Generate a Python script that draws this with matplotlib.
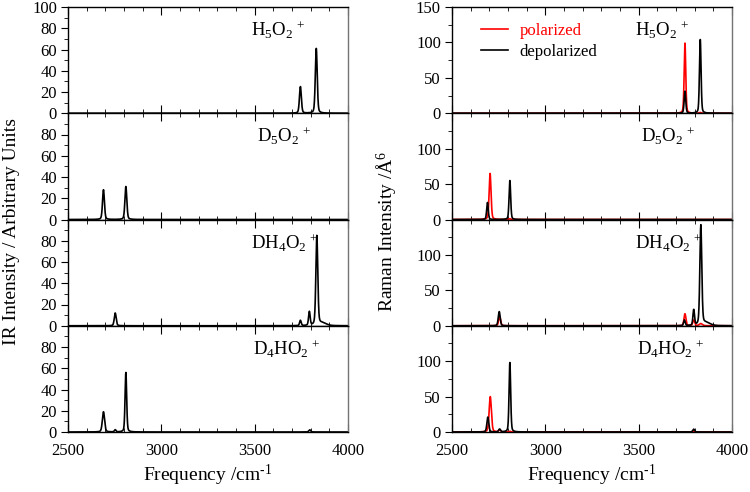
import numpy as np
import matplotlib
matplotlib.use("Agg")
import matplotlib.pyplot as plt

plt.rcParams['font.family'] = ['Liberation Serif', 'DejaVu Serif']
plt.rcParams['mathtext.fontset'] = 'custom'
plt.rcParams['mathtext.rm'] = 'Liberation Serif'
plt.rcParams['mathtext.it'] = 'Liberation Serif:italic'

# species labels (top to bottom)
species = [r'H$_5$O$_2$$^{\,+}$', r'D$_5$O$_2$$^{\,+}$', r'DH$_4$O$_2$$^{\,+}$', r'D$_4$HO$_2$$^{\,+}$']

# IR peak lists: centre (cm-1), height, half width
ir_centers = [[3745, 3830],
              [2690, 2810],
              [2753, 3745, 3793, 3833, 3862],
              [2690, 2753, 2810, 3795]]
ir_heights = [[25, 61],
              [28, 31],
              [12, 5, 13, 84, 2.5],
              [19, 2, 56, 2]]
ir_widths = [[6, 6],
             [6, 6],
             [6, 5, 5, 6, 25],
             [7, 5, 5, 6]]

# Raman polarized (red)
pol_centers = [[3748, 3830],
               [2704, 2810],
               [2755, 3748, 3795, 3833],
               [2705, 2755, 2810, 3795]]
pol_heights = [[99, 1],
               [65, 1],
               [13, 17, 8, 3],
               [50, 3, 1, 1]]
pol_widths = [[5, 5],
              [6, 5],
              [6, 6, 6, 10],
              [7, 6, 5, 6]]

# Raman depolarized (black)
dep_centers = [[3748, 3830],
               [2690, 2810],
               [2753, 3745, 3795, 3833, 3862],
               [2692, 2755, 2810, 3795]]
dep_heights = [[31, 104],
               [24, 55],
               [20, 8, 22, 141, 4],
               [21, 4, 98, 4]]
dep_widths = [[5, 5],
              [5, 5],
              [6, 5, 5, 6, 25],
              [6, 6, 5, 6]]

x = np.linspace(2500, 4000, 3001)


def spectrum(centers, heights, widths, eta=0.3):
    y = np.zeros_like(x)
    for c, h, w in zip(centers, heights, widths):
        lor = w**2 / ((x - c)**2 + w**2)
        gau = np.exp(-np.log(2) * (x - c)**2 / w**2)
        y += h * (eta * lor + (1 - eta) * gau)
    return y


fig = plt.figure(figsize=(7.5, 4.92), dpi=100)
panel_h = 425 / 492 / 4
bottom0 = 1 - 432 / 492
lefts = [68 / 750, 452 / 750]
width = 280 / 750


def style_axis(ax, last):
    ax.set_xlim(2500, 4000)
    ax.xaxis.set_major_locator(plt.MultipleLocator(500))
    ax.xaxis.set_minor_locator(plt.MultipleLocator(100))
    ax.tick_params(axis='x', which='both', direction='in', top=True, labelsize=12, pad=8)
    ax.tick_params(axis='x', which='major', length=6)
    ax.tick_params(axis='x', which='minor', length=3)
    ax.tick_params(axis='y', which='major', direction='out', length=5, labelsize=12, pad=3)
    ax.tick_params(axis='y', which='minor', direction='out', length=3)
    if not last:
        ax.tick_params(axis='x', labelbottom=False)
    for s in ax.spines.values():
        s.set_linewidth(1.0)
    ax.spines['right'].set_color('0.45')


label_x = [0.655, 0.675, 0.655, 0.66]

for i in range(4):
    b = bottom0 + (3 - i) * panel_h
    ax = fig.add_axes([lefts[0], b, width, panel_h])
    ax.plot(x, spectrum(ir_centers[i], ir_heights[i], ir_widths[i]), color='black', lw=1.2)
    ax.set_ylim(0, 100)
    ax.yaxis.set_major_locator(plt.FixedLocator([0, 20, 40, 60, 80, 100] if i == 0 else [0, 20, 40, 60, 80]))
    ax.yaxis.set_minor_locator(plt.MultipleLocator(10))
    style_axis(ax, i == 3)
    ax.text(label_x[i], 0.78, species[i], transform=ax.transAxes, ha='left', va='center', fontsize=13.5)
    if i == 3:
        ax.set_xlabel(r'Frequency /cm$^{\text{-1}}$', fontsize=14, labelpad=3)

    ax2 = fig.add_axes([lefts[1], b, width, panel_h])
    ax2.plot(x, spectrum(pol_centers[i], pol_heights[i], pol_widths[i]), color='red', lw=1.2,
             label='polarized')
    ax2.plot(x, spectrum(dep_centers[i], dep_heights[i], dep_widths[i]), color='black', lw=1.2,
             label='depolarized')
    ax2.set_ylim(0, 150)
    ax2.yaxis.set_major_locator(plt.FixedLocator([0, 50, 100, 150] if i == 0 else [0, 50, 100]))
    ax2.yaxis.set_minor_locator(plt.MultipleLocator(25))
    style_axis(ax2, i == 3)
    ax2.text(label_x[i], 0.78, species[i], transform=ax2.transAxes, ha='left', va='center', fontsize=13.5)
    if i == 0:
        leg = ax2.legend(loc='upper left', bbox_to_anchor=(0.05, 0.99), frameon=False,
                         fontsize=12, handlelength=1.6, handletextpad=0.7, labelspacing=0.3)
        leg.get_texts()[0].set_color('red')
    if i == 3:
        ax2.set_xlabel(r'Frequency /cm$^{\text{-1}}$', fontsize=14, labelpad=3)

fig.text(0.016, 0.53, 'IR Intensity / Arbitrary Units', rotation=90, ha='center', va='center', fontsize=14)
fig.text(0.516, 0.53, 'Raman Intensity /Å$^6$', rotation=90, ha='center', va='center', fontsize=14)

fig.savefig('out.png', dpi=100)
